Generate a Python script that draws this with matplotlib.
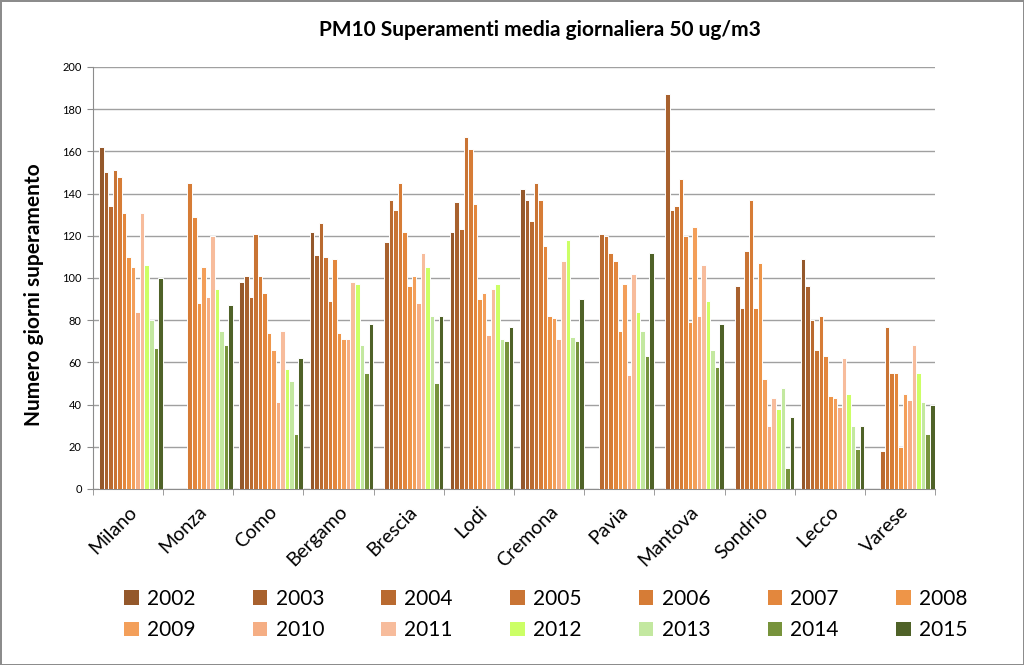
import numpy as np
import matplotlib.pyplot as plt
from matplotlib.patches import Patch

plt.rcParams['font.family'] = ['Lato', 'DejaVu Sans']

cities = ['Milano', 'Monza', 'Como', 'Bergamo', 'Brescia', 'Lodi', 'Cremona',
          'Pavia', 'Mantova', 'Sondrio', 'Lecco', 'Varese']
years = ['2002', '2003', '2004', '2005', '2006', '2007', '2008',
         '2009', '2010', '2011', '2012', '2013', '2014', '2015']

# giorni di superamento per citta, 2002..2015 (0 = dato mancante)
milano  = [162, 150, 134, 151, 148, 131, 110, 105, 84, 131, 106, 80, 67, 100]
monza   = [0, 0, 0, 0, 145, 129, 88, 105, 91, 120, 95, 75, 68, 87]
como    = [98, 101, 91, 121, 101, 93, 74, 66, 41, 75, 57, 51, 26, 62]
bergamo = [122, 111, 126, 110, 89, 109, 74, 71, 71, 98, 97, 68, 55, 78]
brescia = [0, 117, 137, 132, 145, 122, 96, 101, 88, 112, 105, 82, 50, 82]
lodi    = [122, 136, 123, 167, 161, 135, 90, 93, 73, 95, 97, 71, 70, 77]
cremona = [142, 137, 127, 145, 137, 115, 82, 81, 71, 108, 118, 72, 70, 90]
pavia   = [0, 0, 121, 120, 112, 108, 75, 97, 54, 102, 84, 75, 63, 112]
mantova = [0, 187, 132, 134, 147, 120, 79, 124, 82, 106, 89, 66, 58, 78]
sondrio = [0, 96, 86, 113, 137, 86, 107, 52, 30, 43, 38, 48, 10, 34]
lecco   = [109, 96, 80, 66, 82, 63, 44, 43, 39, 62, 45, 30, 19, 30]
varese  = [0, 0, 18, 77, 55, 55, 20, 45, 42, 68, 55, 41, 26, 40]

colors = ['#94582B', '#A8612E', '#B96A30', '#C97434', '#D67C36', '#E3873D', '#EE9548',
          '#F39F5A', '#F5AE84', '#F7BC9C', '#CCFF66', '#C3E8A0', '#77933C', '#4F6228']

data = np.array([milano, monza, como, bergamo, brescia, lodi, cremona,
                 pavia, mantova, sondrio, lecco, varese])

fig = plt.figure(figsize=(10.24, 6.65), dpi=100, edgecolor='#8c8c8c', linewidth=2)
ax = fig.add_axes([0.0908, 0.2647, 0.8223, 0.6346])

x = np.arange(len(cities))
w = 0.0647
for k in range(len(years)):
    vals = data[:, k]
    mask = vals > 0
    ax.bar(x[mask] + 0.04 + (k - 6.5) * w, vals[mask], width=w, color=colors[k],
           edgecolor='white', linewidth=0.7, zorder=3)

ax.set_xlim(-0.5, len(cities) - 0.5)
ax.set_ylim(0, 200)
ax.set_yticks(np.arange(0, 201, 20))
ax.yaxis.grid(True, color='#a0a0a0', linewidth=1, zorder=0)
ax.tick_params(axis='y', labelsize=8, length=4, color='#8c8c8c', pad=4)

ax.set_xticks(x)
ax.set_xticklabels(cities, rotation=45, ha='right', rotation_mode='anchor', fontsize=14)
ax.set_xticks(np.arange(-0.5, len(cities)), minor=True)
ax.tick_params(axis='x', which='major', length=0, pad=10)
ax.tick_params(axis='x', which='minor', length=4, color='#8c8c8c')

for s in ['top', 'right']:
    ax.spines[s].set_visible(False)
for s in ['left', 'bottom']:
    ax.spines[s].set_color('#8c8c8c')

ax.set_ylabel('Numero giorni superamento', fontsize=15, fontweight='bold')
ax.yaxis.set_label_coords(-0.058, 0.46)
fig.text(0.527, 0.955, 'PM10 Superamenti media giornaliera 50 ug/m3', ha='center', va='center',
         fontsize=15, fontweight='bold')

handles = [Patch(facecolor=c, label=y) for c, y in zip(colors, years)]
order = []
for c in range(7):
    order += [c, c + 7]
fig.legend([handles[i] for i in order], [years[i] for i in order], ncol=7,
           loc='center', bbox_to_anchor=(0.533, 0.076), frameon=False, fontsize=15,
           handlelength=0.7, handleheight=0.7, columnspacing=2.75, handletextpad=0.4,
           labelspacing=0.55)

plt.savefig('out.png', dpi=100)
